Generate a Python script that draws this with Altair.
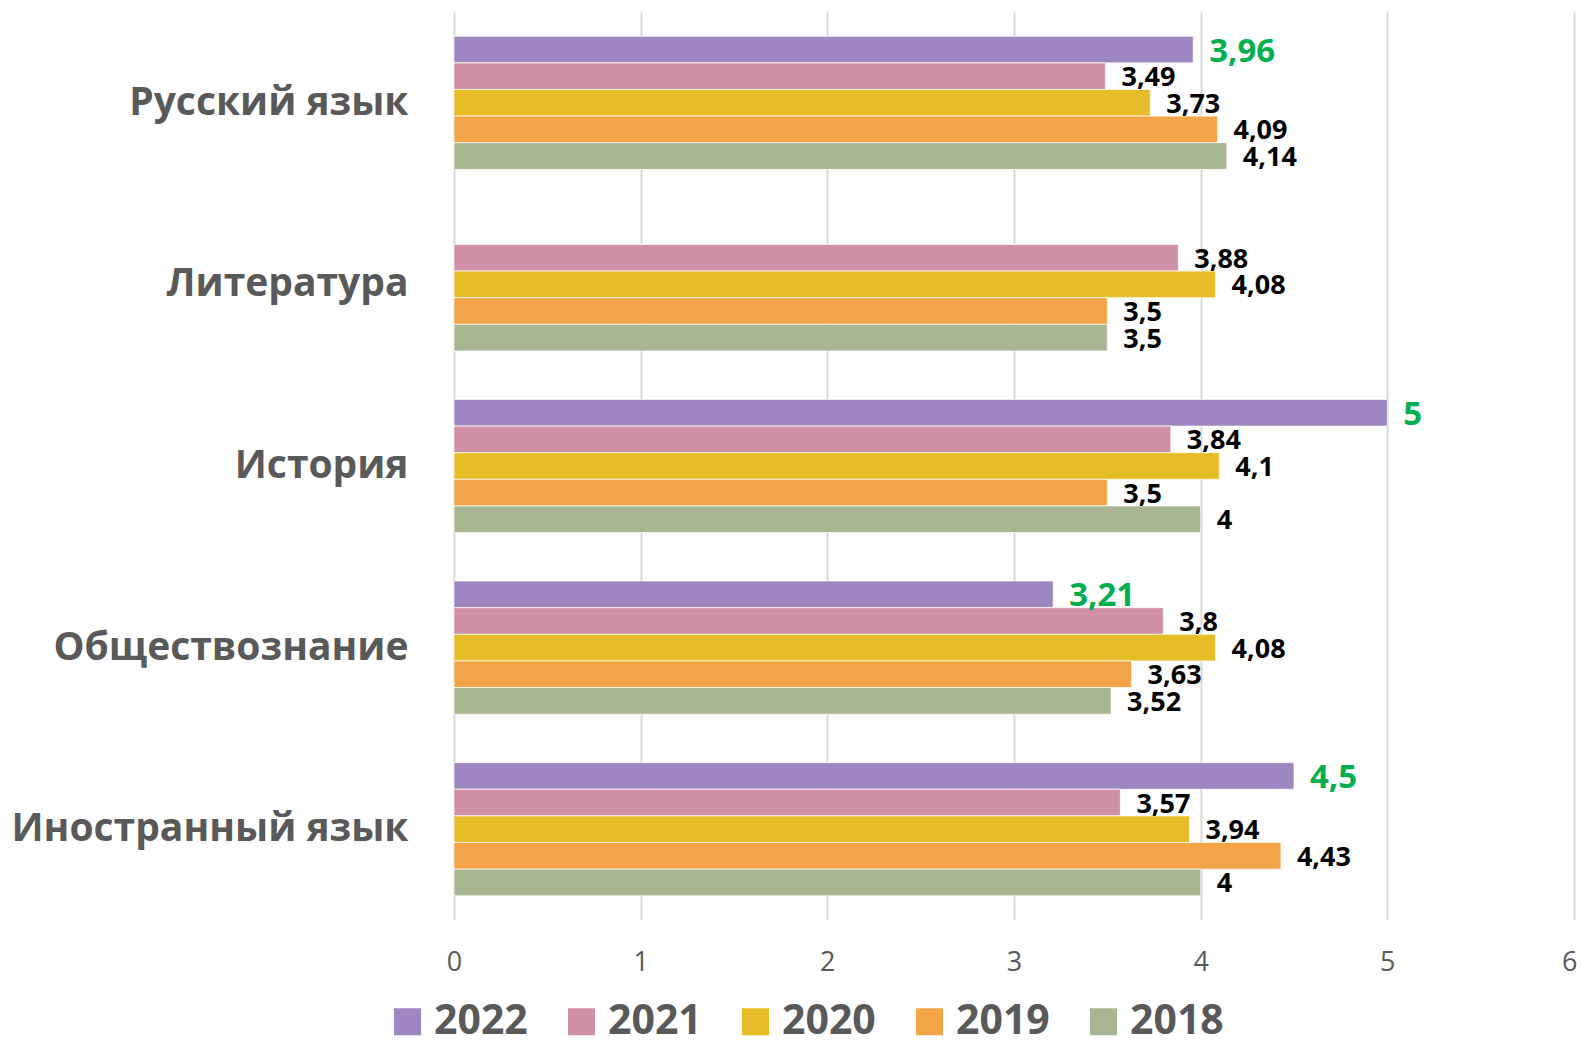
import altair as alt
import pandas as pd

subjects = ["Русский язык", "Литература", "История", "Обществознание", "Иностранный язык"]
years = ["2022", "2021", "2020", "2019", "2018"]
colors = ["#9E86C1", "#D091A6", "#E6BC28", "#F2A446", "#A7B591"]

v2022 = [3.96, None, 5.0, 3.21, 4.5]
v2021 = [3.49, 3.88, 3.84, 3.8, 3.57]
v2020 = [3.73, 4.08, 4.1, 4.08, 3.94]
v2019 = [4.09, 3.5, 3.5, 3.63, 4.43]
v2018 = [4.14, 3.5, 4.0, 3.52, 4.0]

series = {"2022": v2022, "2021": v2021, "2020": v2020, "2019": v2019, "2018": v2018}

rows = []
for yr in years:
    for subj, val in zip(subjects, series[yr]):
        if val is None:
            continue
        rows.append({"subject": subj, "year": yr, "value": val,
                     "label": f"{val:g}".replace(".", ",")})
df = pd.DataFrame(rows)

FONT = "Open Sans"

y_enc = alt.Y("subject:N", sort=subjects, title=None,
              scale=alt.Scale(paddingInner=0.267, paddingOuter=0.1335),
              axis=alt.Axis(labelFontSize=39, labelFontWeight="bold", labelColor="#595959",
                            labelFont=FONT, labelPadding=46, ticks=False, tickSize=0,
                            domain=False, grid=False, labelLimit=600))
yoff = alt.YOffset("year:N", sort=years, scale=alt.Scale(domain=years, paddingInner=0, paddingOuter=0))
x_enc = alt.X("value:Q", title=None,
              scale=alt.Scale(domain=[0, 6], nice=False),
              axis=alt.Axis(values=[0, 1, 2, 3, 4, 5, 6], grid=True, gridColor="#D9D9D9",
                            gridWidth=2, domain=False, ticks=False, labelPadding=29,
                            labelFontSize=27, labelColor="#595959", labelFont=FONT,
                            labelFlush=False, format="d",
                            labelAlign={"condition": {"test": "datum.value == 6", "value": "right"},
                                        "value": "center"},
                            labelOffset={"condition": {"test": "datum.value == 6", "value": 3},
                                         "value": 0}))

bars = alt.Chart().mark_bar(stroke="white", strokeWidth=1, strokeOpacity=0.7).encode(
    x=x_enc,
    y=y_enc,
    yOffset=yoff,
    color=alt.Color("year:N", sort=years,
                    scale=alt.Scale(domain=years, range=colors),
                    legend=alt.Legend(title=None, orient="none", direction="horizontal",
                                      legendX=-67, legendY=989, symbolType="square",
                                      symbolSize=729, symbolStrokeWidth=0,
                                      labelFontSize=41, labelFontWeight="bold",
                                      labelColor="#595959", labelFont=FONT,
                                      labelOffset=6, columnPadding=33)),
)

text_black = alt.Chart().transform_filter(alt.datum.year != "2022").mark_text(
    align="left", baseline="middle", dx=16, dy=2, fontSize=27, fontWeight="bold",
    font=FONT, color="black"
).encode(x="value:Q", y=alt.Y("subject:N", sort=subjects), yOffset=yoff, text="label:N")

text_green = alt.Chart().transform_filter(alt.datum.year == "2022").mark_text(
    align="left", baseline="middle", dx=16, dy=2, fontSize=33, fontWeight="bold",
    font=FONT, color="#00B050"
).encode(x="value:Q", y=alt.Y("subject:N", sort=subjects), yOffset=yoff, text="label:N")

chart = alt.layer(bars, text_black, text_green, data=df).properties(
    width=1120, height=908,
    autosize=alt.AutoSizeParams(type="none"),
    padding={"left": 446, "top": 4, "right": 3, "bottom": 117},
).configure_view(stroke=None)

chart.save("out.html", embed_options={"renderer": "svg", "actions": False})
